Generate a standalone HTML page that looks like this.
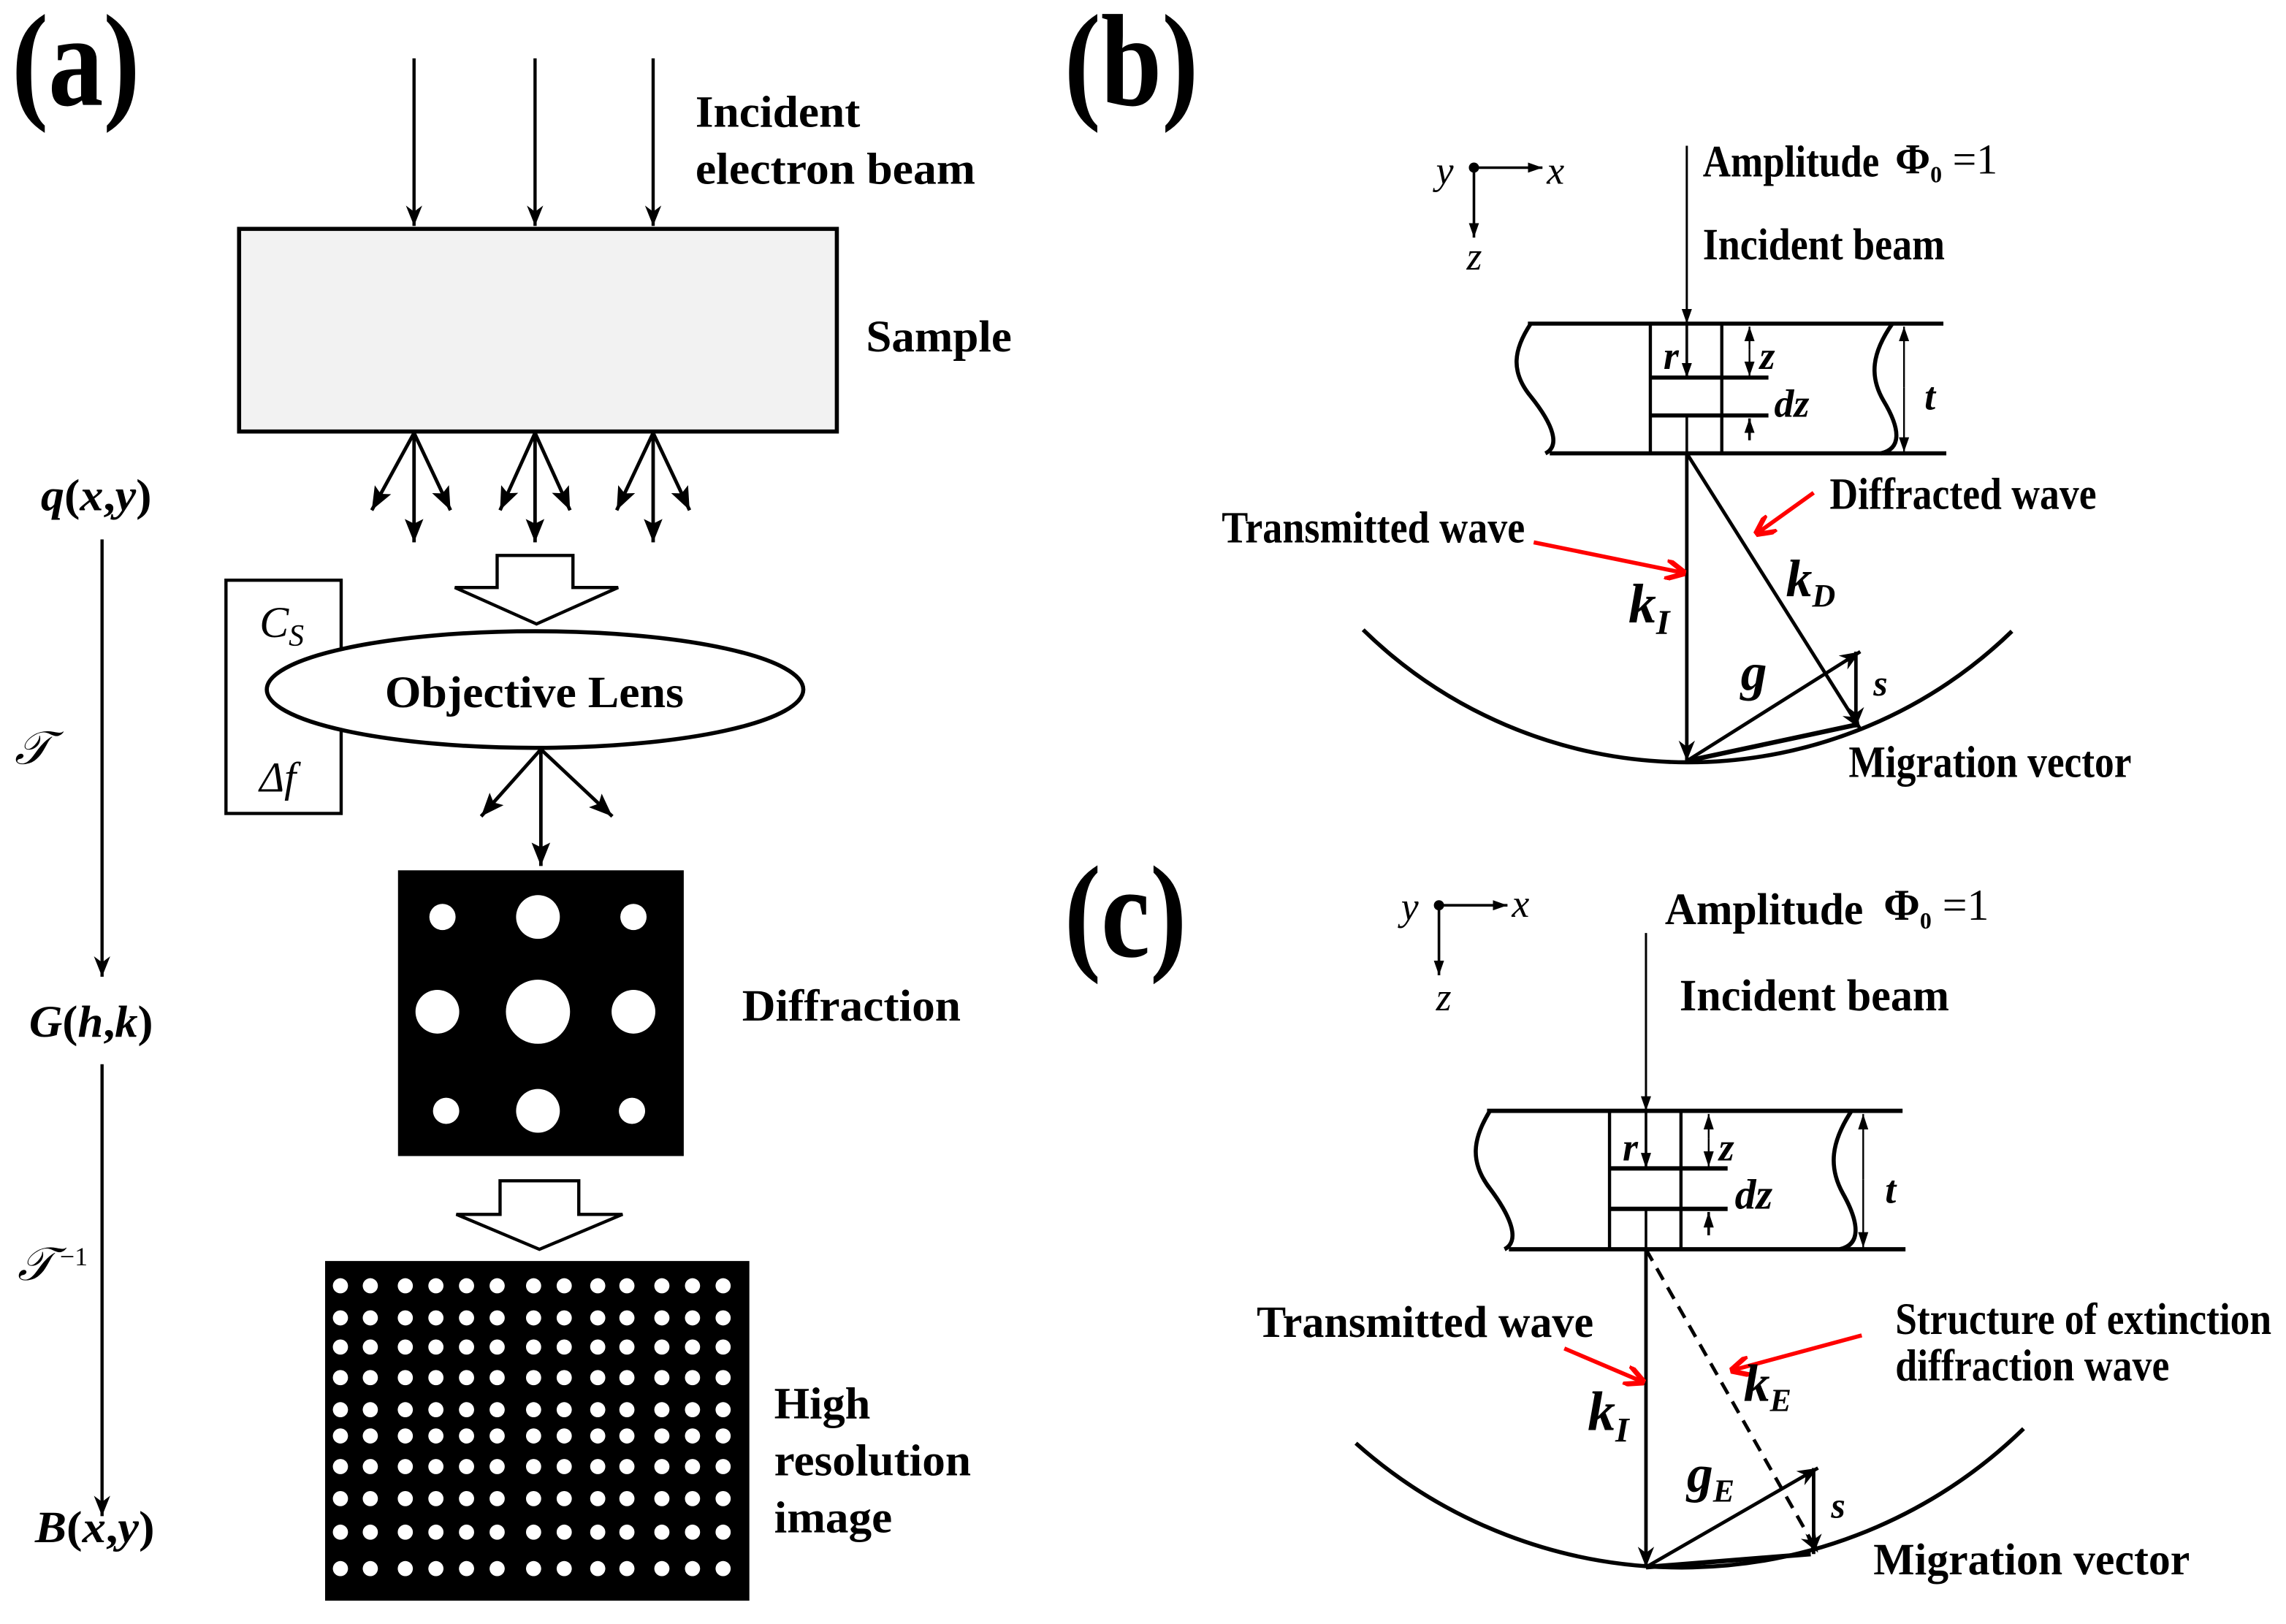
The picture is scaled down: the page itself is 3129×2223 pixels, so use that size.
<!DOCTYPE html>
<html><head><meta charset="utf-8"><style>
html,body{margin:0;padding:0;background:#fff;}
svg{display:block;}
text{font-family:"Liberation Serif",serif;}
.b{font-weight:bold;font-size:31px;}
.bi{font-weight:bold;font-style:italic;}
.it{font-style:italic;}
</style></head><body>
<svg width="3129" height="2223" viewBox="0 0 1568 1114" preserveAspectRatio="none" xmlns="http://www.w3.org/2000/svg">
<defs>
<marker id="ah" viewBox="0 0 10 10" refX="10" refY="5" markerWidth="14" markerHeight="14" markerUnits="userSpaceOnUse" orient="auto"><path d="M0,1 L10,5 L0,9 L3,5 Z" fill="#000"/></marker>
<marker id="ahs" viewBox="0 0 10 10" refX="10" refY="5" markerWidth="10" markerHeight="10" markerUnits="userSpaceOnUse" orient="auto"><path d="M0,1.5 L10,5 L0,8.5 Z" fill="#000"/></marker>
<marker id="ahr" viewBox="0 0 10 10" refX="9" refY="5" markerWidth="14" markerHeight="14" markerUnits="userSpaceOnUse" orient="auto"><path d="M0,0 L10,5 L0,10" fill="none" stroke="#f00" stroke-width="2.5"/></marker>
<marker id="ahb" viewBox="0 0 10 10" refX="10" refY="5" markerWidth="16" markerHeight="16" markerUnits="userSpaceOnUse" orient="auto"><path d="M0,1 L10,5 L0,9 L2,5 Z" fill="#000"/></marker>
</defs>

<!-- (a) -->
<text x="8" y="72" font-weight="bold" font-size="90" textLength="88" lengthAdjust="spacingAndGlyphs">(a)</text>
<g stroke="#000" stroke-width="2.2" fill="none">
<line x1="284" y1="40" x2="284" y2="155" marker-end="url(#ah)"/>
<line x1="367" y1="40" x2="367" y2="155" marker-end="url(#ah)"/>
<line x1="448" y1="40" x2="448" y2="155" marker-end="url(#ah)"/>
</g>
<rect x="164" y="157" width="410" height="139" fill="#f2f2f2" stroke="#000" stroke-width="2.8"/>
<text class="b" x="477" y="87" textLength="113" lengthAdjust="spacingAndGlyphs">Incident</text>
<text class="b" x="477" y="126" textLength="192" lengthAdjust="spacingAndGlyphs">electron beam</text>
<text class="b" x="594" y="241" textLength="100" lengthAdjust="spacingAndGlyphs">Sample</text>
<g stroke="#000" stroke-width="2.4" fill="none">
<line x1="284" y1="297" x2="284" y2="372" marker-end="url(#ahb)"/>
<line x1="284" y1="297" x2="255" y2="350" marker-end="url(#ahb)"/>
<line x1="284" y1="297" x2="309" y2="350" marker-end="url(#ahb)"/>
<line x1="367" y1="297" x2="367" y2="372" marker-end="url(#ahb)"/>
<line x1="367" y1="297" x2="343" y2="350" marker-end="url(#ahb)"/>
<line x1="367" y1="297" x2="391" y2="350" marker-end="url(#ahb)"/>
<line x1="448" y1="297" x2="448" y2="372" marker-end="url(#ahb)"/>
<line x1="448" y1="297" x2="423" y2="350" marker-end="url(#ahb)"/>
<line x1="448" y1="297" x2="473" y2="350" marker-end="url(#ahb)"/>
</g>
<path d="M341,381 H393 V403 H424 L368,428 L312,403 H341 Z" fill="#fff" stroke="#000" stroke-width="2.2"/>
<rect x="155" y="398" width="79" height="160" fill="#fff" stroke="#000" stroke-width="2.2"/>
<text x="178" y="437" class="it" font-size="30">C<tspan font-size="21" dy="6">S</tspan></text>
<text x="178" y="543" class="it" font-size="29">Δf</text>
<ellipse cx="367" cy="473" rx="184" ry="40" fill="#fff" stroke="#000" stroke-width="2.8"/>
<text class="b" x="264" y="485" textLength="205" lengthAdjust="spacingAndGlyphs">Objective Lens</text>
<g stroke="#000" stroke-width="2.4" fill="none">
<line x1="371" y1="514" x2="371" y2="594" marker-end="url(#ahb)"/>
<line x1="371" y1="514" x2="330" y2="560" marker-end="url(#ahb)"/>
<line x1="371" y1="514" x2="420" y2="560" marker-end="url(#ahb)"/>
</g>
<rect x="273" y="597" width="196" height="196" fill="#000"/>
<g fill="#fff">
<circle cx="303.5" cy="629" r="9"/><circle cx="369" cy="629" r="15"/><circle cx="434.5" cy="629" r="9"/>
<circle cx="300" cy="694" r="15"/><circle cx="369" cy="694" r="22"/><circle cx="434.5" cy="694" r="15"/>
<circle cx="306" cy="762" r="9"/><circle cx="369" cy="762" r="15"/><circle cx="433.5" cy="762" r="9"/>
</g>
<text class="b" x="509" y="700" textLength="150" lengthAdjust="spacingAndGlyphs">Diffraction</text>
<path d="M343,810 H397 V833 H427 L370,857 L313,833 H343 Z" fill="#fff" stroke="#000" stroke-width="2.2"/>
<rect x="223" y="865" width="291" height="233" fill="#000"/>
<text class="b" x="531" y="973" textLength="66" lengthAdjust="spacingAndGlyphs">High</text>
<text class="b" x="531" y="1012" textLength="135" lengthAdjust="spacingAndGlyphs">resolution</text>
<text class="b" x="531" y="1051" textLength="81" lengthAdjust="spacingAndGlyphs">image</text>

<!-- left axis -->
<text x="28" y="350" class="bi" font-size="31" textLength="76" lengthAdjust="spacingAndGlyphs">q<tspan font-style="normal">(</tspan>x<tspan font-style="normal">,</tspan>y<tspan font-style="normal">)</tspan></text>
<line x1="70" y1="370" x2="70" y2="670" stroke="#000" stroke-width="2.2" marker-end="url(#ah)"/>
<text x="10" y="524" class="it" font-size="32">𝒯</text>
<text x="20" y="711" class="bi" font-size="31" textLength="85" lengthAdjust="spacingAndGlyphs">G<tspan font-style="normal">(</tspan>h<tspan font-style="normal">,</tspan>k<tspan font-style="normal">)</tspan></text>
<line x1="70" y1="730" x2="70" y2="1040" stroke="#000" stroke-width="2.2" marker-end="url(#ah)"/>
<text x="12" y="878" class="it" font-size="32">𝒯<tspan font-style="normal" font-size="18" dy="-10"> −1</tspan></text>
<text x="24" y="1058" class="bi" font-size="31" textLength="82" lengthAdjust="spacingAndGlyphs">B<tspan font-style="normal">(</tspan>x<tspan font-style="normal">,</tspan>y<tspan font-style="normal">)</tspan></text>

<!-- (b) -->
<text x="730" y="72" font-weight="bold" font-size="90" textLength="92" lengthAdjust="spacingAndGlyphs">(b)</text>
<g stroke="#000" stroke-width="1.8" fill="none">
<line x1="1011" y1="115" x2="1058" y2="115" marker-end="url(#ahs)"/>
<line x1="1011" y1="115" x2="1011" y2="163" marker-end="url(#ahs)"/>
</g>
<circle cx="1011" cy="115" r="3.5" fill="#000"/>
<text x="985" y="126" class="it" font-size="27">y</text>
<text x="1061" y="126" class="it" font-size="27">x</text>
<text x="1006" y="185" class="it" font-size="27">z</text>
<line x1="1157" y1="100" x2="1157" y2="222" stroke="#000" stroke-width="1.5" marker-end="url(#ahs)"/>
<text class="b" x="1168" y="121" textLength="121" lengthAdjust="spacingAndGlyphs">Amplitude</text>
<text x="1300" y="119" font-weight="bold" font-size="29">Φ<tspan font-size="16" dy="6">0</tspan><tspan font-weight="normal" dy="-6" font-size="29"> =1</tspan></text>
<text class="b" x="1168" y="178" textLength="166" lengthAdjust="spacingAndGlyphs">Incident beam</text>

<g id="slab" stroke="#000" fill="none">
<line x1="1048" y1="222" x2="1333" y2="222" stroke-width="2.8"/>
<line x1="1063" y1="311" x2="1335" y2="311" stroke-width="2.8"/>
<path d="M1050,222 C1038,240 1036,255 1050,272 C1066,292 1070,306 1060,311" stroke-width="2.8"/>
<path d="M1298,222 C1284,242 1282,258 1292,275 C1304,295 1304,308 1290,311" stroke-width="2.8"/>
<line x1="1132" y1="222" x2="1132" y2="311" stroke-width="2.2"/>
<line x1="1181" y1="222" x2="1181" y2="311" stroke-width="2.2"/>
<line x1="1132" y1="259" x2="1213" y2="259" stroke-width="2.8"/>
<line x1="1132" y1="285" x2="1213" y2="285" stroke-width="2.8"/>
<line x1="1157" y1="222" x2="1157" y2="259" stroke-width="1.8" marker-end="url(#ahs)"/>
<line x1="1157" y1="285" x2="1157" y2="311" stroke-width="1.8"/>
<line x1="1200" y1="240" x2="1200" y2="224" stroke-width="1.2" marker-end="url(#ahs)"/>
<line x1="1200" y1="240" x2="1200" y2="258" stroke-width="1.2" marker-end="url(#ahs)"/>
<line x1="1200" y1="302" x2="1200" y2="287" stroke-width="1.8" marker-end="url(#ahs)"/>
<line x1="1306" y1="266" x2="1306" y2="224" stroke-width="1.2" marker-end="url(#ahs)"/>
<line x1="1306" y1="266" x2="1306" y2="310" stroke-width="1.2" marker-end="url(#ahs)"/>
</g>
<text x="1141" y="253" class="bi" font-size="27">r</text>
<text x="1207" y="253" class="bi" font-size="27">z</text>
<text x="1217" y="286" class="bi" font-size="27">dz</text>
<text x="1320" y="281" class="bi" font-size="27">t</text>

<g stroke="#000" stroke-width="2.4" fill="none">
<line x1="1157" y1="311" x2="1157" y2="522" marker-end="url(#ah)"/>
<line x1="1157" y1="311" x2="1276" y2="500" marker-end="url(#ah)"/>
<path d="M935,432 A319,319 0 0 0 1380,433" stroke-width="2.8"/>
<line x1="1157" y1="522" x2="1276" y2="447" marker-end="url(#ah)"/>
<line x1="1273" y1="447" x2="1273" y2="499" marker-end="url(#ah)"/>
<line x1="1157" y1="522" x2="1274" y2="497" stroke-width="3.2"/>
</g>
<g stroke="#f00" stroke-width="2.8" fill="none">
<line x1="1052" y1="372" x2="1155" y2="393" marker-end="url(#ahr)"/>
<line x1="1244" y1="338" x2="1205" y2="366" marker-end="url(#ahr)"/>
</g>
<text class="b" x="838" y="372" textLength="208" lengthAdjust="spacingAndGlyphs">Transmitted wave</text>
<text class="b" x="1255" y="349" textLength="183" lengthAdjust="spacingAndGlyphs">Diffracted wave</text>
<text x="1117" y="427" class="bi" font-size="38">k<tspan font-size="24" dy="8">I</tspan></text>
<text x="1225" y="409" class="bi" font-size="36">k<tspan font-size="22" dy="7">D</tspan></text>
<text x="1194" y="473" class="bi" font-size="36">g</text>
<text x="1285" y="477" class="bi" font-size="25">s</text>
<text class="b" x="1268" y="533" textLength="194" lengthAdjust="spacingAndGlyphs">Migration vector</text>

<!-- (c) -->
<text x="730" y="656" font-weight="bold" font-size="90" textLength="84" lengthAdjust="spacingAndGlyphs">(c)</text>
<g stroke="#000" stroke-width="1.8" fill="none">
<line x1="987" y1="621" x2="1034" y2="621" marker-end="url(#ahs)"/>
<line x1="987" y1="621" x2="987" y2="669" marker-end="url(#ahs)"/>
</g>
<circle cx="987" cy="621" r="3.5" fill="#000"/>
<text x="961" y="631" class="it" font-size="27">y</text>
<text x="1037" y="629" class="it" font-size="27">x</text>
<text x="985" y="693" class="it" font-size="27">z</text>
<line x1="1129" y1="640" x2="1129" y2="762" stroke="#000" stroke-width="1.5" marker-end="url(#ahs)"/>
<text class="b" x="1142" y="634" textLength="136" lengthAdjust="spacingAndGlyphs">Amplitude</text>
<text x="1292" y="631" font-weight="bold" font-size="30">Φ<tspan font-size="16" dy="6">0</tspan><tspan font-weight="normal" dy="-6" font-size="30"> =1</tspan></text>
<text class="b" x="1152" y="693" textLength="185" lengthAdjust="spacingAndGlyphs">Incident beam</text>
<use href="#slab" transform="translate(-28,762) scale(1,1.067) translate(0,-222)"/>
<text x="1113" y="796" class="bi" font-size="27">r</text>
<text x="1179" y="796" class="bi" font-size="27">z</text>
<text x="1190" y="829" class="bi" font-size="29">dz</text>
<text x="1293" y="825" class="bi" font-size="27">t</text>
<g stroke="#000" stroke-width="2.4" fill="none">
<line x1="1129" y1="857" x2="1129" y2="1075" marker-end="url(#ah)"/>
<line x1="1129" y1="857" x2="1247" y2="1065" stroke-dasharray="9,6" marker-end="url(#ah)"/>
<path d="M930,990 A336,336 0 0 0 1388,980" stroke-width="2.8"/>
<line x1="1129" y1="1075" x2="1247" y2="1007" marker-end="url(#ah)"/>
<line x1="1244" y1="1007" x2="1244" y2="1066" marker-end="url(#ah)"/>
<line x1="1129" y1="1075" x2="1242" y2="1066" stroke-width="3.2"/>
</g>
<g stroke="#f00" stroke-width="2.8" fill="none">
<line x1="1073" y1="925" x2="1127" y2="948" marker-end="url(#ahr)"/>
<line x1="1277" y1="916" x2="1188" y2="940" marker-end="url(#ahr)"/>
</g>
<text class="b" x="862" y="917" textLength="231" lengthAdjust="spacingAndGlyphs">Transmitted wave</text>
<text class="b" x="1300" y="915" font-size="28" textLength="258" lengthAdjust="spacingAndGlyphs">Structure of extinction</text>
<text class="b" x="1300" y="947" font-size="28" textLength="188" lengthAdjust="spacingAndGlyphs">diffraction wave</text>
<text x="1089" y="981" class="bi" font-size="38">k<tspan font-size="24" dy="8">I</tspan></text>
<text x="1196" y="961" class="bi" font-size="36">k<tspan font-size="22" dy="7">E</tspan></text>
<text x="1157" y="1023" class="bi" font-size="36">g<tspan font-size="22" dy="7">E</tspan></text>
<text x="1256" y="1041" class="bi" font-size="25">s</text>
<text class="b" x="1285" y="1080" textLength="217" lengthAdjust="spacingAndGlyphs">Migration vector</text>

<!-- HR dots -->
<g fill="#fff">
<g id="row">
<circle cx="233.5" cy="0" r="5.2"/><circle cx="254" cy="0" r="5.2"/><circle cx="278" cy="0" r="5.2"/><circle cx="299" cy="0" r="5.2"/><circle cx="320" cy="0" r="5.2"/><circle cx="341" cy="0" r="5.2"/><circle cx="366" cy="0" r="5.2"/><circle cx="387" cy="0" r="5.2"/><circle cx="410" cy="0" r="5.2"/><circle cx="430" cy="0" r="5.2"/><circle cx="454" cy="0" r="5.2"/><circle cx="475" cy="0" r="5.2"/><circle cx="496" cy="0" r="5.2"/>
</g>
</g>
<g fill="#fff">
<use href="#row" transform="translate(0,882)"/>
<use href="#row" transform="translate(0,904)"/>
<use href="#row" transform="translate(0,924)"/>
<use href="#row" transform="translate(0,945)"/>
<use href="#row" transform="translate(0,967)"/>
<use href="#row" transform="translate(0,985)"/>
<use href="#row" transform="translate(0,1006)"/>
<use href="#row" transform="translate(0,1028)"/>
<use href="#row" transform="translate(0,1051)"/>
<use href="#row" transform="translate(0,1076)"/>
</g>
</svg>
</body></html>
